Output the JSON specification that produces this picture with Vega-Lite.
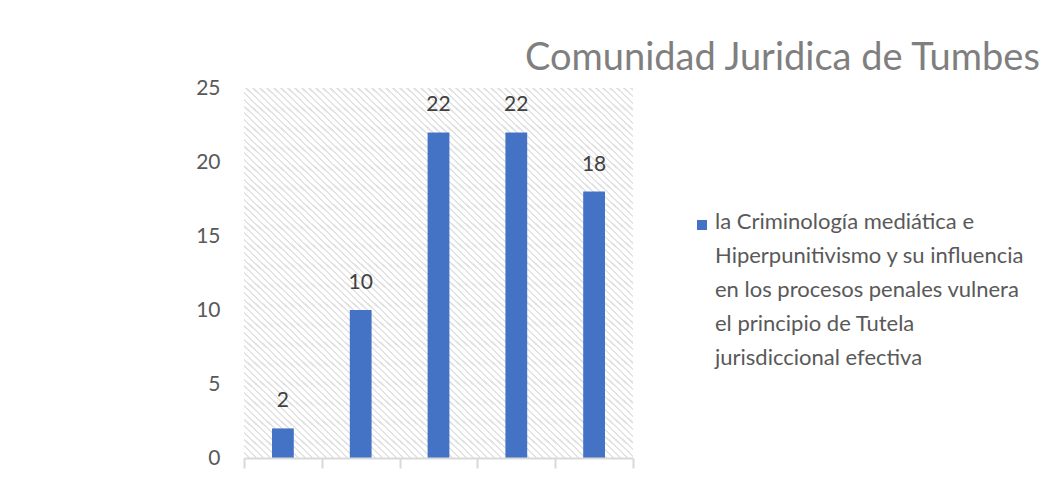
{
  "$schema": "https://vega.github.io/schema/vega-lite/v6.json",
  "width": 389,
  "height": 370,
  "autosize": {"type": "none"},
  "padding": {"left": 244, "top": 88, "right": 408, "bottom": 23},
  "background": "white",
  "title": {
    "text": "Comunidad Juridica de Tumbes",
    "anchor": "start",
    "frame": "group",
    "dx": 281,
    "dy": 49,
    "offset": 18,
    "baseline": "alphabetic",
    "fontSize": 38,
    "font": "Lato",
    "fontWeight": "normal",
    "color": "#7f7f7f"
  },
  "config": {"view": {"stroke": null}, "font": "Lato"},
  "data": {
    "values": [
      {"cat": "1", "valor": 2, "serie": "la Criminología mediática e\nHiperpunitivismo y su influencia\nen los procesos penales vulnera\nel principio de Tutela\njurisdiccional efectiva"},
      {"cat": "2", "valor": 10, "serie": "la Criminología mediática e\nHiperpunitivismo y su influencia\nen los procesos penales vulnera\nel principio de Tutela\njurisdiccional efectiva"},
      {"cat": "3", "valor": 22, "serie": "la Criminología mediática e\nHiperpunitivismo y su influencia\nen los procesos penales vulnera\nel principio de Tutela\njurisdiccional efectiva"},
      {"cat": "4", "valor": 22, "serie": "la Criminología mediática e\nHiperpunitivismo y su influencia\nen los procesos penales vulnera\nel principio de Tutela\njurisdiccional efectiva"},
      {"cat": "5", "valor": 18, "serie": "la Criminología mediática e\nHiperpunitivismo y su influencia\nen los procesos penales vulnera\nel principio de Tutela\njurisdiccional efectiva"}
    ]
  },
  "layer": [
    {
      "data": {"values": [{"fondo": "trama"}]},
      "mark": {
        "type": "rect",
        "fill": {
          "gradient": "linear",
          "x1": 0, "y1": 1, "x2": 1.125, "y2": -0.125,
          "stops": [
{"offset":0,"color":"#fff"},{"offset":0.0052,"color":"#fff"},{"offset":0.0054,"color":"#e3e3e3"},{"offset":0.0078,"color":"#e3e3e3"},{"offset":0.008,"color":"#fff"},{"offset":0.0132,"color":"#fff"},{"offset":0.0134,"color":"#e3e3e3"},{"offset":0.0158,"color":"#e3e3e3"},{"offset":0.016,"color":"#fff"},{"offset":0.0212,"color":"#fff"},{"offset":0.0214,"color":"#e3e3e3"},{"offset":0.0238,"color":"#e3e3e3"},{"offset":0.024,"color":"#fff"},{"offset":0.0292,"color":"#fff"},{"offset":0.0294,"color":"#e3e3e3"},{"offset":0.0318,"color":"#e3e3e3"},{"offset":0.032,"color":"#fff"},{"offset":0.0372,"color":"#fff"},{"offset":0.0374,"color":"#e3e3e3"},{"offset":0.0398,"color":"#e3e3e3"},
{"offset":0.04,"color":"#fff"},{"offset":0.0452,"color":"#fff"},{"offset":0.0454,"color":"#e3e3e3"},{"offset":0.0478,"color":"#e3e3e3"},{"offset":0.048,"color":"#fff"},{"offset":0.0532,"color":"#fff"},{"offset":0.0534,"color":"#e3e3e3"},{"offset":0.0558,"color":"#e3e3e3"},{"offset":0.056,"color":"#fff"},{"offset":0.0612,"color":"#fff"},{"offset":0.0614,"color":"#e3e3e3"},{"offset":0.0638,"color":"#e3e3e3"},{"offset":0.064,"color":"#fff"},{"offset":0.0692,"color":"#fff"},{"offset":0.0694,"color":"#e3e3e3"},{"offset":0.0718,"color":"#e3e3e3"},{"offset":0.072,"color":"#fff"},{"offset":0.0772,"color":"#fff"},{"offset":0.0774,"color":"#e3e3e3"},{"offset":0.0798,"color":"#e3e3e3"},
{"offset":0.08,"color":"#fff"},{"offset":0.0852,"color":"#fff"},{"offset":0.0854,"color":"#e3e3e3"},{"offset":0.0878,"color":"#e3e3e3"},{"offset":0.088,"color":"#fff"},{"offset":0.0932,"color":"#fff"},{"offset":0.0934,"color":"#e3e3e3"},{"offset":0.0958,"color":"#e3e3e3"},{"offset":0.096,"color":"#fff"},{"offset":0.1012,"color":"#fff"},{"offset":0.1014,"color":"#e3e3e3"},{"offset":0.1038,"color":"#e3e3e3"},{"offset":0.104,"color":"#fff"},{"offset":0.1092,"color":"#fff"},{"offset":0.1094,"color":"#e3e3e3"},{"offset":0.1118,"color":"#e3e3e3"},{"offset":0.112,"color":"#fff"},{"offset":0.1172,"color":"#fff"},{"offset":0.1174,"color":"#e3e3e3"},{"offset":0.1198,"color":"#e3e3e3"},
{"offset":0.12,"color":"#fff"},{"offset":0.1252,"color":"#fff"},{"offset":0.1254,"color":"#e3e3e3"},{"offset":0.1278,"color":"#e3e3e3"},{"offset":0.128,"color":"#fff"},{"offset":0.1332,"color":"#fff"},{"offset":0.1334,"color":"#e3e3e3"},{"offset":0.1358,"color":"#e3e3e3"},{"offset":0.136,"color":"#fff"},{"offset":0.1412,"color":"#fff"},{"offset":0.1414,"color":"#e3e3e3"},{"offset":0.1438,"color":"#e3e3e3"},{"offset":0.144,"color":"#fff"},{"offset":0.1492,"color":"#fff"},{"offset":0.1494,"color":"#e3e3e3"},{"offset":0.1518,"color":"#e3e3e3"},{"offset":0.152,"color":"#fff"},{"offset":0.1572,"color":"#fff"},{"offset":0.1574,"color":"#e3e3e3"},{"offset":0.1598,"color":"#e3e3e3"},
{"offset":0.16,"color":"#fff"},{"offset":0.1652,"color":"#fff"},{"offset":0.1654,"color":"#e3e3e3"},{"offset":0.1678,"color":"#e3e3e3"},{"offset":0.168,"color":"#fff"},{"offset":0.1732,"color":"#fff"},{"offset":0.1734,"color":"#e3e3e3"},{"offset":0.1758,"color":"#e3e3e3"},{"offset":0.176,"color":"#fff"},{"offset":0.1812,"color":"#fff"},{"offset":0.1814,"color":"#e3e3e3"},{"offset":0.1838,"color":"#e3e3e3"},{"offset":0.184,"color":"#fff"},{"offset":0.1892,"color":"#fff"},{"offset":0.1894,"color":"#e3e3e3"},{"offset":0.1918,"color":"#e3e3e3"},{"offset":0.192,"color":"#fff"},{"offset":0.1972,"color":"#fff"},{"offset":0.1974,"color":"#e3e3e3"},{"offset":0.1998,"color":"#e3e3e3"},
{"offset":0.2,"color":"#fff"},{"offset":0.2052,"color":"#fff"},{"offset":0.2054,"color":"#e3e3e3"},{"offset":0.2078,"color":"#e3e3e3"},{"offset":0.208,"color":"#fff"},{"offset":0.2132,"color":"#fff"},{"offset":0.2134,"color":"#e3e3e3"},{"offset":0.2158,"color":"#e3e3e3"},{"offset":0.216,"color":"#fff"},{"offset":0.2212,"color":"#fff"},{"offset":0.2214,"color":"#e3e3e3"},{"offset":0.2238,"color":"#e3e3e3"},{"offset":0.224,"color":"#fff"},{"offset":0.2292,"color":"#fff"},{"offset":0.2294,"color":"#e3e3e3"},{"offset":0.2318,"color":"#e3e3e3"},{"offset":0.232,"color":"#fff"},{"offset":0.2372,"color":"#fff"},{"offset":0.2374,"color":"#e3e3e3"},{"offset":0.2398,"color":"#e3e3e3"},
{"offset":0.24,"color":"#fff"},{"offset":0.2452,"color":"#fff"},{"offset":0.2454,"color":"#e3e3e3"},{"offset":0.2478,"color":"#e3e3e3"},{"offset":0.248,"color":"#fff"},{"offset":0.2532,"color":"#fff"},{"offset":0.2534,"color":"#e3e3e3"},{"offset":0.2558,"color":"#e3e3e3"},{"offset":0.256,"color":"#fff"},{"offset":0.2612,"color":"#fff"},{"offset":0.2614,"color":"#e3e3e3"},{"offset":0.2638,"color":"#e3e3e3"},{"offset":0.264,"color":"#fff"},{"offset":0.2692,"color":"#fff"},{"offset":0.2694,"color":"#e3e3e3"},{"offset":0.2718,"color":"#e3e3e3"},{"offset":0.272,"color":"#fff"},{"offset":0.2772,"color":"#fff"},{"offset":0.2774,"color":"#e3e3e3"},{"offset":0.2798,"color":"#e3e3e3"},
{"offset":0.28,"color":"#fff"},{"offset":0.2852,"color":"#fff"},{"offset":0.2854,"color":"#e3e3e3"},{"offset":0.2878,"color":"#e3e3e3"},{"offset":0.288,"color":"#fff"},{"offset":0.2932,"color":"#fff"},{"offset":0.2934,"color":"#e3e3e3"},{"offset":0.2958,"color":"#e3e3e3"},{"offset":0.296,"color":"#fff"},{"offset":0.3012,"color":"#fff"},{"offset":0.3014,"color":"#e3e3e3"},{"offset":0.3038,"color":"#e3e3e3"},{"offset":0.304,"color":"#fff"},{"offset":0.3092,"color":"#fff"},{"offset":0.3094,"color":"#e3e3e3"},{"offset":0.3118,"color":"#e3e3e3"},{"offset":0.312,"color":"#fff"},{"offset":0.3172,"color":"#fff"},{"offset":0.3174,"color":"#e3e3e3"},{"offset":0.3198,"color":"#e3e3e3"},
{"offset":0.32,"color":"#fff"},{"offset":0.3252,"color":"#fff"},{"offset":0.3254,"color":"#e3e3e3"},{"offset":0.3278,"color":"#e3e3e3"},{"offset":0.328,"color":"#fff"},{"offset":0.3332,"color":"#fff"},{"offset":0.3334,"color":"#e3e3e3"},{"offset":0.3358,"color":"#e3e3e3"},{"offset":0.336,"color":"#fff"},{"offset":0.3412,"color":"#fff"},{"offset":0.3414,"color":"#e3e3e3"},{"offset":0.3438,"color":"#e3e3e3"},{"offset":0.344,"color":"#fff"},{"offset":0.3492,"color":"#fff"},{"offset":0.3494,"color":"#e3e3e3"},{"offset":0.3518,"color":"#e3e3e3"},{"offset":0.352,"color":"#fff"},{"offset":0.3572,"color":"#fff"},{"offset":0.3574,"color":"#e3e3e3"},{"offset":0.3598,"color":"#e3e3e3"},
{"offset":0.36,"color":"#fff"},{"offset":0.3652,"color":"#fff"},{"offset":0.3654,"color":"#e3e3e3"},{"offset":0.3678,"color":"#e3e3e3"},{"offset":0.368,"color":"#fff"},{"offset":0.3732,"color":"#fff"},{"offset":0.3734,"color":"#e3e3e3"},{"offset":0.3758,"color":"#e3e3e3"},{"offset":0.376,"color":"#fff"},{"offset":0.3812,"color":"#fff"},{"offset":0.3814,"color":"#e3e3e3"},{"offset":0.3838,"color":"#e3e3e3"},{"offset":0.384,"color":"#fff"},{"offset":0.3892,"color":"#fff"},{"offset":0.3894,"color":"#e3e3e3"},{"offset":0.3918,"color":"#e3e3e3"},{"offset":0.392,"color":"#fff"},{"offset":0.3972,"color":"#fff"},{"offset":0.3974,"color":"#e3e3e3"},{"offset":0.3998,"color":"#e3e3e3"},
{"offset":0.4,"color":"#fff"},{"offset":0.4052,"color":"#fff"},{"offset":0.4054,"color":"#e3e3e3"},{"offset":0.4078,"color":"#e3e3e3"},{"offset":0.408,"color":"#fff"},{"offset":0.4132,"color":"#fff"},{"offset":0.4134,"color":"#e3e3e3"},{"offset":0.4158,"color":"#e3e3e3"},{"offset":0.416,"color":"#fff"},{"offset":0.4212,"color":"#fff"},{"offset":0.4214,"color":"#e3e3e3"},{"offset":0.4238,"color":"#e3e3e3"},{"offset":0.424,"color":"#fff"},{"offset":0.4292,"color":"#fff"},{"offset":0.4294,"color":"#e3e3e3"},{"offset":0.4318,"color":"#e3e3e3"},{"offset":0.432,"color":"#fff"},{"offset":0.4372,"color":"#fff"},{"offset":0.4374,"color":"#e3e3e3"},{"offset":0.4398,"color":"#e3e3e3"},
{"offset":0.44,"color":"#fff"},{"offset":0.4452,"color":"#fff"},{"offset":0.4454,"color":"#e3e3e3"},{"offset":0.4478,"color":"#e3e3e3"},{"offset":0.448,"color":"#fff"},{"offset":0.4532,"color":"#fff"},{"offset":0.4534,"color":"#e3e3e3"},{"offset":0.4558,"color":"#e3e3e3"},{"offset":0.456,"color":"#fff"},{"offset":0.4612,"color":"#fff"},{"offset":0.4614,"color":"#e3e3e3"},{"offset":0.4638,"color":"#e3e3e3"},{"offset":0.464,"color":"#fff"},{"offset":0.4692,"color":"#fff"},{"offset":0.4694,"color":"#e3e3e3"},{"offset":0.4718,"color":"#e3e3e3"},{"offset":0.472,"color":"#fff"},{"offset":0.4772,"color":"#fff"},{"offset":0.4774,"color":"#e3e3e3"},{"offset":0.4798,"color":"#e3e3e3"},
{"offset":0.48,"color":"#fff"},{"offset":0.4852,"color":"#fff"},{"offset":0.4854,"color":"#e3e3e3"},{"offset":0.4878,"color":"#e3e3e3"},{"offset":0.488,"color":"#fff"},{"offset":0.4932,"color":"#fff"},{"offset":0.4934,"color":"#e3e3e3"},{"offset":0.4958,"color":"#e3e3e3"},{"offset":0.496,"color":"#fff"},{"offset":0.5012,"color":"#fff"},{"offset":0.5014,"color":"#e3e3e3"},{"offset":0.5038,"color":"#e3e3e3"},{"offset":0.504,"color":"#fff"},{"offset":0.5092,"color":"#fff"},{"offset":0.5094,"color":"#e3e3e3"},{"offset":0.5118,"color":"#e3e3e3"},{"offset":0.512,"color":"#fff"},{"offset":0.5172,"color":"#fff"},{"offset":0.5174,"color":"#e3e3e3"},{"offset":0.5198,"color":"#e3e3e3"},
{"offset":0.52,"color":"#fff"},{"offset":0.5252,"color":"#fff"},{"offset":0.5254,"color":"#e3e3e3"},{"offset":0.5278,"color":"#e3e3e3"},{"offset":0.528,"color":"#fff"},{"offset":0.5332,"color":"#fff"},{"offset":0.5334,"color":"#e3e3e3"},{"offset":0.5358,"color":"#e3e3e3"},{"offset":0.536,"color":"#fff"},{"offset":0.5412,"color":"#fff"},{"offset":0.5414,"color":"#e3e3e3"},{"offset":0.5438,"color":"#e3e3e3"},{"offset":0.544,"color":"#fff"},{"offset":0.5492,"color":"#fff"},{"offset":0.5494,"color":"#e3e3e3"},{"offset":0.5518,"color":"#e3e3e3"},{"offset":0.552,"color":"#fff"},{"offset":0.5572,"color":"#fff"},{"offset":0.5574,"color":"#e3e3e3"},{"offset":0.5598,"color":"#e3e3e3"},
{"offset":0.56,"color":"#fff"},{"offset":0.5652,"color":"#fff"},{"offset":0.5654,"color":"#e3e3e3"},{"offset":0.5678,"color":"#e3e3e3"},{"offset":0.568,"color":"#fff"},{"offset":0.5732,"color":"#fff"},{"offset":0.5734,"color":"#e3e3e3"},{"offset":0.5758,"color":"#e3e3e3"},{"offset":0.576,"color":"#fff"},{"offset":0.5812,"color":"#fff"},{"offset":0.5814,"color":"#e3e3e3"},{"offset":0.5838,"color":"#e3e3e3"},{"offset":0.584,"color":"#fff"},{"offset":0.5892,"color":"#fff"},{"offset":0.5894,"color":"#e3e3e3"},{"offset":0.5918,"color":"#e3e3e3"},{"offset":0.592,"color":"#fff"},{"offset":0.5972,"color":"#fff"},{"offset":0.5974,"color":"#e3e3e3"},{"offset":0.5998,"color":"#e3e3e3"},
{"offset":0.6,"color":"#fff"},{"offset":0.6052,"color":"#fff"},{"offset":0.6054,"color":"#e3e3e3"},{"offset":0.6078,"color":"#e3e3e3"},{"offset":0.608,"color":"#fff"},{"offset":0.6132,"color":"#fff"},{"offset":0.6134,"color":"#e3e3e3"},{"offset":0.6158,"color":"#e3e3e3"},{"offset":0.616,"color":"#fff"},{"offset":0.6212,"color":"#fff"},{"offset":0.6214,"color":"#e3e3e3"},{"offset":0.6238,"color":"#e3e3e3"},{"offset":0.624,"color":"#fff"},{"offset":0.6292,"color":"#fff"},{"offset":0.6294,"color":"#e3e3e3"},{"offset":0.6318,"color":"#e3e3e3"},{"offset":0.632,"color":"#fff"},{"offset":0.6372,"color":"#fff"},{"offset":0.6374,"color":"#e3e3e3"},{"offset":0.6398,"color":"#e3e3e3"},
{"offset":0.64,"color":"#fff"},{"offset":0.6452,"color":"#fff"},{"offset":0.6454,"color":"#e3e3e3"},{"offset":0.6478,"color":"#e3e3e3"},{"offset":0.648,"color":"#fff"},{"offset":0.6532,"color":"#fff"},{"offset":0.6534,"color":"#e3e3e3"},{"offset":0.6558,"color":"#e3e3e3"},{"offset":0.656,"color":"#fff"},{"offset":0.6612,"color":"#fff"},{"offset":0.6614,"color":"#e3e3e3"},{"offset":0.6638,"color":"#e3e3e3"},{"offset":0.664,"color":"#fff"},{"offset":0.6692,"color":"#fff"},{"offset":0.6694,"color":"#e3e3e3"},{"offset":0.6718,"color":"#e3e3e3"},{"offset":0.672,"color":"#fff"},{"offset":0.6772,"color":"#fff"},{"offset":0.6774,"color":"#e3e3e3"},{"offset":0.6798,"color":"#e3e3e3"},
{"offset":0.68,"color":"#fff"},{"offset":0.6852,"color":"#fff"},{"offset":0.6854,"color":"#e3e3e3"},{"offset":0.6878,"color":"#e3e3e3"},{"offset":0.688,"color":"#fff"},{"offset":0.6932,"color":"#fff"},{"offset":0.6934,"color":"#e3e3e3"},{"offset":0.6958,"color":"#e3e3e3"},{"offset":0.696,"color":"#fff"},{"offset":0.7012,"color":"#fff"},{"offset":0.7014,"color":"#e3e3e3"},{"offset":0.7038,"color":"#e3e3e3"},{"offset":0.704,"color":"#fff"},{"offset":0.7092,"color":"#fff"},{"offset":0.7094,"color":"#e3e3e3"},{"offset":0.7118,"color":"#e3e3e3"},{"offset":0.712,"color":"#fff"},{"offset":0.7172,"color":"#fff"},{"offset":0.7174,"color":"#e3e3e3"},{"offset":0.7198,"color":"#e3e3e3"},
{"offset":0.72,"color":"#fff"},{"offset":0.7252,"color":"#fff"},{"offset":0.7254,"color":"#e3e3e3"},{"offset":0.7278,"color":"#e3e3e3"},{"offset":0.728,"color":"#fff"},{"offset":0.7332,"color":"#fff"},{"offset":0.7334,"color":"#e3e3e3"},{"offset":0.7358,"color":"#e3e3e3"},{"offset":0.736,"color":"#fff"},{"offset":0.7412,"color":"#fff"},{"offset":0.7414,"color":"#e3e3e3"},{"offset":0.7438,"color":"#e3e3e3"},{"offset":0.744,"color":"#fff"},{"offset":0.7492,"color":"#fff"},{"offset":0.7494,"color":"#e3e3e3"},{"offset":0.7518,"color":"#e3e3e3"},{"offset":0.752,"color":"#fff"},{"offset":0.7572,"color":"#fff"},{"offset":0.7574,"color":"#e3e3e3"},{"offset":0.7598,"color":"#e3e3e3"},
{"offset":0.76,"color":"#fff"},{"offset":0.7652,"color":"#fff"},{"offset":0.7654,"color":"#e3e3e3"},{"offset":0.7678,"color":"#e3e3e3"},{"offset":0.768,"color":"#fff"},{"offset":0.7732,"color":"#fff"},{"offset":0.7734,"color":"#e3e3e3"},{"offset":0.7758,"color":"#e3e3e3"},{"offset":0.776,"color":"#fff"},{"offset":0.7812,"color":"#fff"},{"offset":0.7814,"color":"#e3e3e3"},{"offset":0.7838,"color":"#e3e3e3"},{"offset":0.784,"color":"#fff"},{"offset":0.7892,"color":"#fff"},{"offset":0.7894,"color":"#e3e3e3"},{"offset":0.7918,"color":"#e3e3e3"},{"offset":0.792,"color":"#fff"},{"offset":0.7972,"color":"#fff"},{"offset":0.7974,"color":"#e3e3e3"},{"offset":0.7998,"color":"#e3e3e3"},
{"offset":0.8,"color":"#fff"},{"offset":0.8052,"color":"#fff"},{"offset":0.8054,"color":"#e3e3e3"},{"offset":0.8078,"color":"#e3e3e3"},{"offset":0.808,"color":"#fff"},{"offset":0.8132,"color":"#fff"},{"offset":0.8134,"color":"#e3e3e3"},{"offset":0.8158,"color":"#e3e3e3"},{"offset":0.816,"color":"#fff"},{"offset":0.8212,"color":"#fff"},{"offset":0.8214,"color":"#e3e3e3"},{"offset":0.8238,"color":"#e3e3e3"},{"offset":0.824,"color":"#fff"},{"offset":0.8292,"color":"#fff"},{"offset":0.8294,"color":"#e3e3e3"},{"offset":0.8318,"color":"#e3e3e3"},{"offset":0.832,"color":"#fff"},{"offset":0.8372,"color":"#fff"},{"offset":0.8374,"color":"#e3e3e3"},{"offset":0.8398,"color":"#e3e3e3"},
{"offset":0.84,"color":"#fff"},{"offset":0.8452,"color":"#fff"},{"offset":0.8454,"color":"#e3e3e3"},{"offset":0.8478,"color":"#e3e3e3"},{"offset":0.848,"color":"#fff"},{"offset":0.8532,"color":"#fff"},{"offset":0.8534,"color":"#e3e3e3"},{"offset":0.8558,"color":"#e3e3e3"},{"offset":0.856,"color":"#fff"},{"offset":0.8612,"color":"#fff"},{"offset":0.8614,"color":"#e3e3e3"},{"offset":0.8638,"color":"#e3e3e3"},{"offset":0.864,"color":"#fff"},{"offset":0.8692,"color":"#fff"},{"offset":0.8694,"color":"#e3e3e3"},{"offset":0.8718,"color":"#e3e3e3"},{"offset":0.872,"color":"#fff"},{"offset":0.8772,"color":"#fff"},{"offset":0.8774,"color":"#e3e3e3"},{"offset":0.8798,"color":"#e3e3e3"},
{"offset":0.88,"color":"#fff"},{"offset":0.8852,"color":"#fff"},{"offset":0.8854,"color":"#e3e3e3"},{"offset":0.8878,"color":"#e3e3e3"},{"offset":0.888,"color":"#fff"},{"offset":0.8932,"color":"#fff"},{"offset":0.8934,"color":"#e3e3e3"},{"offset":0.8958,"color":"#e3e3e3"},{"offset":0.896,"color":"#fff"},{"offset":0.9012,"color":"#fff"},{"offset":0.9014,"color":"#e3e3e3"},{"offset":0.9038,"color":"#e3e3e3"},{"offset":0.904,"color":"#fff"},{"offset":0.9092,"color":"#fff"},{"offset":0.9094,"color":"#e3e3e3"},{"offset":0.9118,"color":"#e3e3e3"},{"offset":0.912,"color":"#fff"},{"offset":0.9172,"color":"#fff"},{"offset":0.9174,"color":"#e3e3e3"},{"offset":0.9198,"color":"#e3e3e3"},
{"offset":0.92,"color":"#fff"},{"offset":0.9252,"color":"#fff"},{"offset":0.9254,"color":"#e3e3e3"},{"offset":0.9278,"color":"#e3e3e3"},{"offset":0.928,"color":"#fff"},{"offset":0.9332,"color":"#fff"},{"offset":0.9334,"color":"#e3e3e3"},{"offset":0.9358,"color":"#e3e3e3"},{"offset":0.936,"color":"#fff"},{"offset":0.9412,"color":"#fff"},{"offset":0.9414,"color":"#e3e3e3"},{"offset":0.9438,"color":"#e3e3e3"},{"offset":0.944,"color":"#fff"},{"offset":0.9492,"color":"#fff"},{"offset":0.9494,"color":"#e3e3e3"},{"offset":0.9518,"color":"#e3e3e3"},{"offset":0.952,"color":"#fff"},{"offset":0.9572,"color":"#fff"},{"offset":0.9574,"color":"#e3e3e3"},{"offset":0.9598,"color":"#e3e3e3"},
{"offset":0.96,"color":"#fff"},{"offset":0.9652,"color":"#fff"},{"offset":0.9654,"color":"#e3e3e3"},{"offset":0.9678,"color":"#e3e3e3"},{"offset":0.968,"color":"#fff"},{"offset":0.9732,"color":"#fff"},{"offset":0.9734,"color":"#e3e3e3"},{"offset":0.9758,"color":"#e3e3e3"},{"offset":0.976,"color":"#fff"},{"offset":0.9812,"color":"#fff"},{"offset":0.9814,"color":"#e3e3e3"},{"offset":0.9838,"color":"#e3e3e3"},{"offset":0.984,"color":"#fff"},{"offset":0.9892,"color":"#fff"},{"offset":0.9894,"color":"#e3e3e3"},{"offset":0.9918,"color":"#e3e3e3"},{"offset":0.992,"color":"#fff"},{"offset":0.9972,"color":"#fff"},{"offset":0.9974,"color":"#e3e3e3"},{"offset":0.9998,"color":"#e3e3e3"},
{"offset":1,"color":"#fff"}
          ]
        }
      },
      "encoding": {}
    },
    {
      "mark": {"type": "bar", "width": {"band": 0.28}},
      "encoding": {
        "x": {
          "field": "cat",
          "type": "nominal",
          "sort": null,
          "scale": {"paddingInner": 0, "paddingOuter": 0},
          "axis": {
            "title": null,
            "labels": false,
            "grid": false,
            "domainColor": "#d9d9d9",
            "domainWidth": 2,
            "tickColor": "#d9d9d9",
            "tickWidth": 2,
            "tickSize": 10,
            "tickBand": "extent",
            "zindex": 1
          }
        },
        "y": {
          "field": "valor",
          "type": "quantitative",
          "scale": {"domain": [0, 25], "nice": false},
          "axis": {
            "title": null,
            "domain": false,
            "ticks": false,
            "grid": false,
            "values": [0, 5, 10, 15, 20, 25],
            "labelFontSize": 21,
            "labelColor": "#595959",
            "labelFont": "Lato",
            "labelPadding": 24
          }
        },
        "color": {
          "field": "serie",
          "type": "nominal",
          "scale": {"range": ["#4472C4"]},
          "legend": {
            "orient": "none",
            "legendX": 447,
            "legendY": 126,
            "title": null,
            "padding": 0,
            "symbolType": "square",
            "symbolSize": 100,
            "symbolStrokeWidth": 0,
            "labelFont": "Lato",
            "labelFontSize": 22,
            "labelColor": "#595959",
            "labelBaseline": "top",
            "labelOffset": 2,
            "labelLimit": 0,
            "labelExpr": "split(datum.label, '\\n')",
            "encode": {"labels": {"update": {"lineHeight": {"value": 34}, "dy": {"value": -13}}}}
          }
        }
      }
    },
    {
      "mark": {"type": "text", "baseline": "alphabetic", "dy": -21, "fontSize": 21, "font": "Lato", "color": "#404040"},
      "encoding": {
        "x": {"field": "cat", "type": "nominal", "sort": null},
        "y": {"field": "valor", "type": "quantitative"},
        "text": {"field": "valor", "type": "quantitative"}
      }
    }
  ]
}
